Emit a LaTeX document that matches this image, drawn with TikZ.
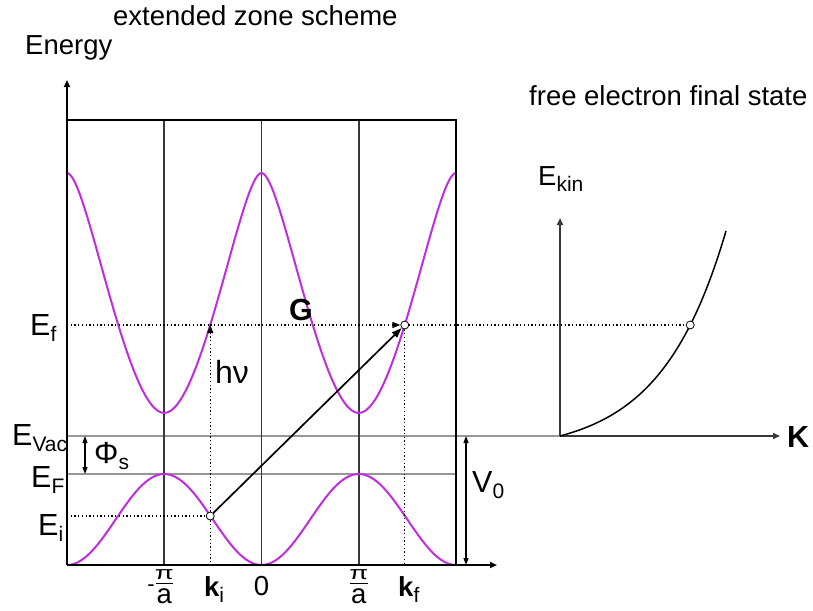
\documentclass[tikz,border=0pt]{standalone}
\usepackage{fontspec}
\setmainfont{Liberation Sans}
\usetikzlibrary{arrows.meta}
\definecolor{bandc}{RGB}{192,44,222}
\definecolor{dgray}{RGB}{56,56,56}
\definecolor{lgray}{RGB}{150,150,150}
\newcommand{\bigf}{\fontsize{27.5}{33}\selectfont}
\newcommand{\labf}{\fontsize{30.5}{36}\selectfont}
\newcommand{\lowidx}[1]{\raisebox{-6pt}{\fontsize{21}{21}\selectfont #1}}
\begin{document}
\begin{tikzpicture}[x=1pt,y=-1pt,
  every node/.style={inner sep=0pt,font=\bigf},
  txt/.style={anchor=base west},
  lab/.style={anchor=base west,font=\labf},
  bandline/.style={bandc,line width=2pt},
  boxline/.style={black,line width=2pt},
  inner/.style={dgray,line width=1.8pt},
  level/.style={lgray,line width=1.5pt},
  dotl/.style={black,line width=1.3pt,dash pattern=on 1.3pt off 2.4pt},
  axtip/.style={-{Triangle[length=7pt,width=6pt]}},
  dbl/.style={{Triangle[length=7pt,width=5pt]}-{Triangle[length=7pt,width=5pt]},line width=1.2pt},
  opencirc/.style={circle,draw=black,fill=white,line width=0.8pt,minimum size=8pt}]
\useasboundingbox (0,0) rectangle (813,610);

% coordinates
\coordinate (O) at (67,565);
\coordinate (Ytop) at (67,80);
\coordinate (Xend) at (497,565);
\coordinate (TL) at (67,120);
\coordinate (TR) at (456,120);
\coordinate (BR) at (456,565);
\coordinate (vacL) at (67,436);
\coordinate (FO) at (560,436);
\coordinate (FL) at (67,474);
\coordinate (FR) at (456,474);
\coordinate (efL) at (67,325);
\coordinate (eiL) at (67,516);
\coordinate (hvtop) at (210.25,325);
\coordinate (kiB) at (210.25,565);
\coordinate (kfB) at (404.75,565);
\coordinate (FYtop) at (560,218);
\coordinate (FXend) at (780,436);
\coordinate (phT) at (85,436);
\coordinate (phB) at (85,474);
\coordinate (vT) at (466,436);
\coordinate (vB) at (466,565);

% gray levels
\draw[level] (vacL) -- (FO);
\draw[level] (FL) -- (FR);

% inner vertical lines
\foreach \xx/\nm in {164.25/m,261.5/z,358.75/p}{
  \coordinate (v\nm t) at (\xx,120);
  \coordinate (v\nm b) at (\xx,565);
  \draw[inner] (v\nm t) -- (v\nm b);
}

% bands
\draw[bandline] (67,173) .. controls (87,173) and (126.25,413) .. (164.25,413)
  .. controls (202.25,413) and (241.5,173) .. (261.5,173)
  .. controls (281.5,173) and (320.75,413) .. (358.75,413)
  .. controls (396.75,413) and (436,173) .. (456,173);
\draw[bandline] plot[domain=67:456,samples=140,smooth] (\x,{565-45.5*(1-cos(1.85090*(\x-261.5)))});

% box and axes
\draw[boxline] (TL) -- (TR) -- (BR);
\draw[boxline,axtip] (O) -- (Ytop);
\draw[boxline,axtip] (O) -- (Xend);

% free electron axes and curve
\draw[dgray,line width=1.8pt,axtip] (FO) -- (FYtop);
\draw[dgray,line width=1.8pt,axtip] (FO) -- (FXend);
\draw[black,line width=1.5pt] plot[domain=0:166,samples=60,smooth] ({560+\x},{436-17.3*(exp(\x/65)-1)});

% circles
\node[opencirc] (ci) at (210.25,516) {};
\node[opencirc] (cf) at (404.75,325) {};
\node[opencirc] (cfe) at (690.2,325) {};

% dotted lines
\draw[dotl] (efL) -- (hvtop);
\draw[dotl,-{Triangle[length=8pt,width=6pt]}] (hvtop) -- (cf);
\draw[dotl] (cf) -- (cfe);
\draw[dotl,-{Triangle[length=8pt,width=6pt]}] (ci) -- (hvtop);
\draw[dotl] (ci) -- (kiB);
\draw[dotl] (cf) -- (kfB);
\draw[dotl] (eiL) -- (ci);

% transition arrow
\draw[black,line width=1.7pt,-{Triangle[length=10pt,width=7pt]}] (ci) -- (cf);

% double arrows
\draw[dbl] (phT) -- (phB);
\draw[dbl] (vT) -- (vB);

% texts
\node[txt] (title) at (113,26) {extended zone scheme};
\node[txt] (energy) at (25,55) {Energy};
\node[txt] (fes) at (529,105) {free electron final state};
\node[txt] (ekin) at (538,185) {E\lowidx{kin}};
\node[lab] (ef) at (30,335) {E\lowidx{f}};
\node[lab] (evac) at (12,445) {E\lowidx{Vac}};
\node[lab] (phis) at (94,463) {Φ\lowidx{s}};
\node[lab] (eF) at (31,487) {E\lowidx{F}};
\node[lab] (ei) at (38,535) {E\lowidx{i}};
\node[txt,font=\fontsize{32}{38}\selectfont] (hv) at (215,383) {hν};
\node[lab] (G) at (289,320) {\bfseries G};
\node[lab] (v0) at (472,492) {V\lowidx{0}};
\node[lab] (K) at (787,447) {\bfseries K};
\node[anchor=base] (zero) at (261.5,595) {0};
\node[txt] (ki) at (204,596) {\bfseries k\lowidx{\mdseries i}};
\node[txt] (kf) at (398,596) {\bfseries k\lowidx{\mdseries f}};

% fractions
\node[anchor=base] (pim) at (164.25,579) {\scalebox{1}[0.68]{π}};
\node[anchor=base] (am) at (164.25,603) {a};
\coordinate (bmL) at (155.5,583.5);
\coordinate (bmR) at (173,583.5);
\draw[black,line width=1.4pt] (bmL) -- (bmR);
\node[anchor=base east] (minus) at (155,591) {\fontsize{22}{22}\selectfont -};
\node[anchor=base] (pip) at (358.75,579) {\scalebox{1}[0.68]{π}};
\node[anchor=base] (ap) at (358.75,603) {a};
\coordinate (bpL) at (350,583.5);
\coordinate (bpR) at (367.5,583.5);
\draw[black,line width=1.4pt] (bpL) -- (bpR);
\end{tikzpicture}
\end{document}
